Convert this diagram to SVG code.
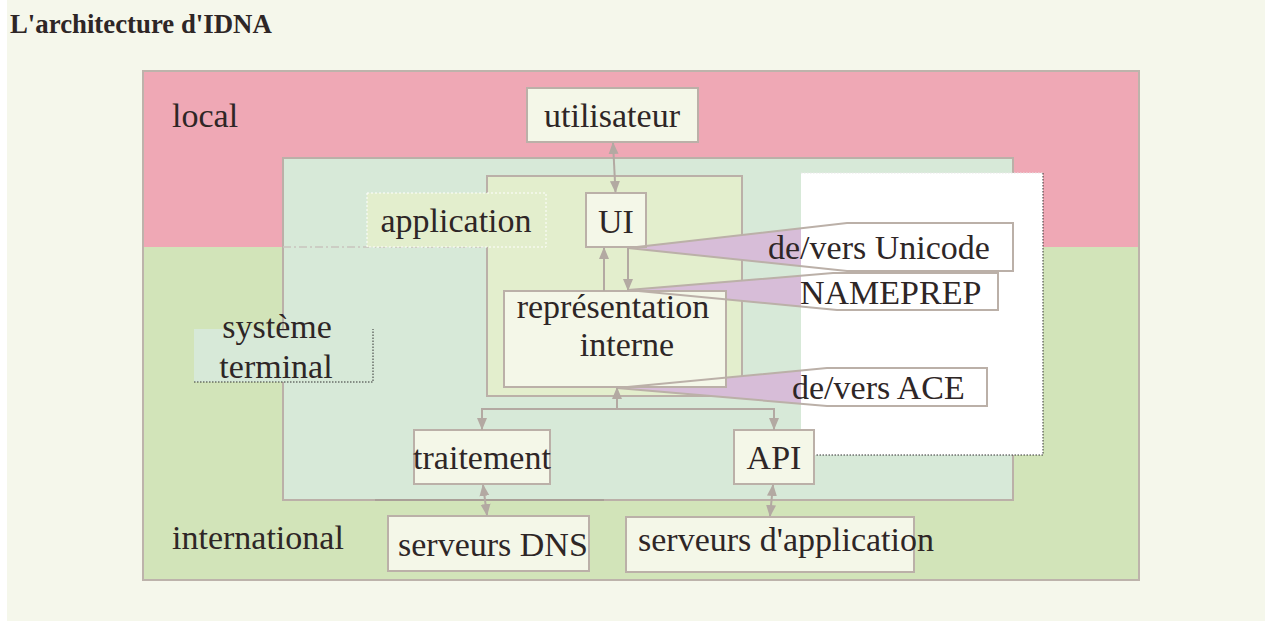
<svg xmlns="http://www.w3.org/2000/svg" width="1265" height="621" viewBox="0 0 1265 621">
<defs>
<style>
.t{font-family:"Liberation Serif","Times New Roman",serif;font-size:34px;fill:#2e2626}
.box{fill:#f4f7e8;stroke:#bbb0a8;stroke-width:2}
.c{stroke:#b3a9a2;stroke-width:2;fill:none}
.cf{fill:#d7bdd8;stroke:none}
.co{fill:none;stroke:#bbb0a8;stroke-width:2}
</style>
<marker id="ah" viewBox="0 0 12 12" refX="11" refY="6" markerWidth="12" markerHeight="12" markerUnits="userSpaceOnUse" orient="auto-start-reverse">
<path d="M0,1 L12,6 L0,11 Z" fill="#b3a9a2"/>
</marker>
</defs>
<rect x="0" y="0" width="1265" height="621" fill="#ffffff"/>
<rect x="7" y="0" width="1258" height="621" fill="#f5f7eb"/>
<text x="10" y="33" style="font-family:'Liberation Serif','Times New Roman',serif;font-size:26.8px;font-weight:bold;fill:#2e2626">L'architecture d'IDNA</text>

<g id="zones">
<rect x="143" y="71" width="996" height="176" fill="#efa8b5"/>
<rect x="143" y="247" width="996" height="333" fill="#d2e4b9"/>
<rect x="143" y="71" width="996" height="509" fill="none" stroke="#bdb3ab" stroke-width="2"/>
</g>

<g id="systeme-terminal">
<rect x="283" y="158" width="730" height="342" fill="#d7e9d8" stroke="#bbb0a8" stroke-width="2"/>
<line x1="283" y1="247" x2="586" y2="247" stroke="#c9c4bd" stroke-width="1.5" stroke-dasharray="8,3,2,3"/>
<line x1="375" y1="500" x2="604" y2="500" stroke="#aaa098" stroke-width="2"/>
<rect x="194" y="329" width="179" height="53" fill="#d7e9d8"/>
<polyline points="194,382 373,382 373,329" fill="none" stroke="#333" stroke-width="1" stroke-dasharray="1.5,1.5"/>
<text class="t" x="277" y="338" text-anchor="middle">système</text>
<text class="t" x="276" y="378" text-anchor="middle">terminal</text>
</g>

<g id="application">
<rect x="487" y="176" width="255" height="220" fill="#e3eecd" stroke="#bbb0a8" stroke-width="2"/>
<rect x="367" y="193" width="179" height="54" fill="#e3eecd" stroke="#ffffff" stroke-width="1" stroke-dasharray="2,2"/>
<text class="t" x="456" y="232" text-anchor="middle">application</text>
</g>

<g id="local-label"><text class="t" x="172" y="127">local</text></g>
<g id="international-label"><text class="t" x="172" y="549">international</text></g>

<g id="callout-fills">
<polygon class="cf" points="628,248 847,223 1013,223 1013,271 847,271"/>
<polygon class="cf" points="628,290 833,273 998,273 998,310 837,310"/>
<polygon class="cf" points="617,388 827,368 987,368 987,406 827,406"/>
</g>

<g id="white-panel">
<rect x="801" y="173" width="242" height="282" fill="#ffffff"/>
<line x1="801" y1="173" x2="1043" y2="173" stroke="#e8e8e8" stroke-width="1" stroke-dasharray="1.5,1.5"/>
<polyline points="1043,173 1043,455 801,455" fill="none" stroke="#333" stroke-width="1" stroke-dasharray="1.5,1.5"/>
</g>

<g id="utilisateur">
<rect class="box" x="527" y="88" width="171" height="54"/>
<text class="t" x="612" y="127" text-anchor="middle">utilisateur</text>
</g>
<g id="ui">
<rect class="box" x="586" y="193" width="60" height="54"/>
<text class="t" x="616" y="233" text-anchor="middle">UI</text>
</g>
<g id="representation">
<rect class="box" x="504" y="291" width="222" height="96"/>
<text class="t" x="613" y="318" text-anchor="middle">représentation</text>
<text class="t" x="627" y="356" text-anchor="middle">interne</text>
</g>
<g id="traitement">
<rect class="box" x="414" y="430" width="136" height="54"/>
<text class="t" x="482" y="469" text-anchor="middle">traitement</text>
</g>
<g id="api">
<rect class="box" x="734" y="430" width="80" height="54"/>
<text class="t" x="774" y="469" text-anchor="middle">API</text>
</g>
<g id="serveurs-dns">
<rect class="box" x="388" y="516" width="201" height="55"/>
<text class="t" x="398" y="556">serveurs DNS</text>
</g>
<g id="serveurs-app">
<rect class="box" x="626" y="517" width="288" height="55"/>
<text class="t" x="638" y="551">serveurs d'application</text>
</g>

<g id="callouts">
<polygon class="co" points="628,248 847,223 1013,223 1013,271 847,271"/>
<polygon class="co" points="628,290 833,273 998,273 998,310 837,310"/>
<polygon class="co" points="617,388 827,368 987,368 987,406 827,406"/>
<text class="t" x="768" y="259">de/vers Unicode</text>
<text class="t" x="800" y="304">NAMEPREP</text>
<text class="t" x="792" y="399">de/vers ACE</text>
</g>

<g id="connectors">
<line class="c" x1="613" y1="143" x2="615.5" y2="192" marker-start="url(#ah)" marker-end="url(#ah)"/>
<line class="c" x1="604" y1="291" x2="604" y2="248" marker-end="url(#ah)"/>
<line class="c" x1="628" y1="248" x2="628" y2="290" marker-end="url(#ah)"/>
<line class="c" x1="617" y1="409" x2="617" y2="388" marker-end="url(#ah)"/>
<polyline class="c" points="482,430 482,409 774,409 774,430" />
<line class="c" x1="482" y1="420" x2="482" y2="429" marker-end="url(#ah)"/>
<line class="c" x1="774" y1="420" x2="774" y2="429" marker-end="url(#ah)"/>
<line class="c" x1="483" y1="485" x2="487" y2="515" marker-start="url(#ah)" marker-end="url(#ah)"/>
<line class="c" x1="773" y1="485" x2="770" y2="516" marker-start="url(#ah)" marker-end="url(#ah)"/>
</g>
</svg>
